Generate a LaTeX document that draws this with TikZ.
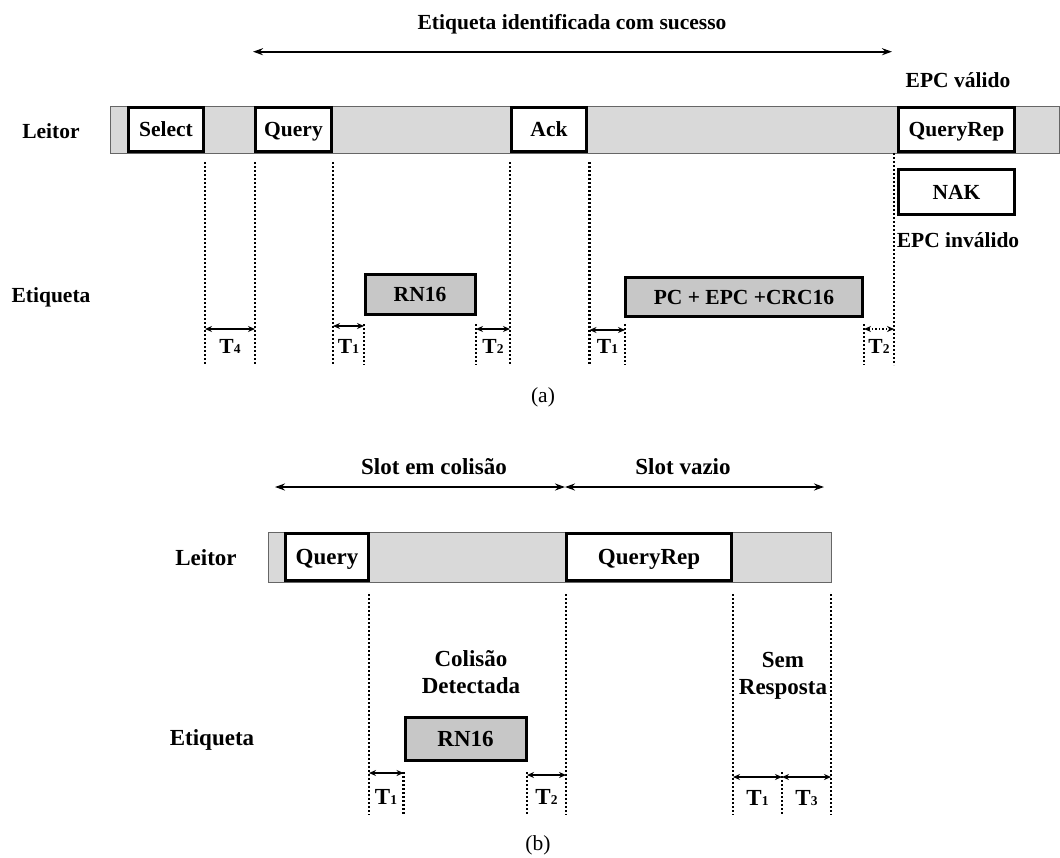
\documentclass[tikz,border=0pt]{standalone}
\usepackage{fontspec}
\setmainfont{Liberation Serif}
\usetikzlibrary{arrows.meta,positioning}

\newcommand{\tsub}[1]{T{\fontsize{13.5}{14}\selectfont #1}}

\begin{document}
\begin{tikzpicture}[x=1pt, y=-1pt,
    txt/.style={font=\fontsize{21.5}{24}\selectfont\bfseries, inner sep=0pt, align=center},
    txtb/.style={font=\fontsize{23}{27}\selectfont\bfseries, inner sep=0pt, align=center},
    bar/.style={draw=black!60, fill=black!15, line width=0.9pt},
    msg/.style={draw, fill=white, line width=3pt, inner sep=0pt, text height=19.5pt, text depth=5pt},
    reply/.style={draw, fill=black!22, line width=3pt, inner sep=0pt},
    guide/.style={line width=2.4pt, dash pattern=on 2.2pt off 1.8pt},
    span/.style={{Stealth[length=10pt,width=7pt]}-{Stealth[length=10pt,width=7pt]}, line width=2.2pt},
    tarr/.style={{Stealth[length=7pt,width=6pt]}-{Stealth[length=7pt,width=6pt]}, line width=1.5pt}]
    \useasboundingbox (0,0) rectangle (1060,857);

    % (a) top
    \node[txt] (title) at (572,24) {Etiqueta identificada com sucesso};
    \coordinate (sa) at (253,51.7);
    \coordinate (sb) at (892,51.7);
    \draw[span] (sa) -- (sb);
    \node[txt] (valid) at (958,80) {EPC válido};

    % leitor
    \node[txt] (leitorA) at (51,131) {Leitor};
    \draw[bar] (110,106) rectangle (1059.5,153);
    \node[msg, txt, minimum width=75.6pt, minimum height=44pt] (sel) at (166,129.5) {Select};
    \node[msg, txt, minimum width=76pt, minimum height=44pt] (qryA) at (293.5,129.5) {Query};
    \node[msg, txt, minimum width=75.5pt, minimum height=44pt] (ack) at (549,129.5) {Ack};
    \node[msg, txt, minimum width=116pt, minimum height=44pt] (qrep) at (956.5,129.5) {QueryRep};
    \node[msg, txt, minimum width=116pt, minimum height=45pt] (nak) at (956.5,192) {NAK};
    \node[txt] (invalid) at (958,240) {EPC inválido};

    % etiqueta
    \node[txt] (etiqA) at (51,297) {Etiqueta};
    \node[reply, txt, minimum width=110pt, minimum height=40pt] (rnA) at (420,294.5) {RN16};
    \node[reply, txt, minimum width=237.5pt, minimum height=39pt] (pcepc) at (744,297) {PC + EPC +CRC16};

    % guides
    \foreach \x/\y [count=\i] in {205/162, 255/162, 333/162, 364/324, 476/324,
                                  510/162, 589.5/162, 625/324, 864/324, 894/153} {
        \draw[guide] (\x,\y) -- (\x,365) coordinate (ga\i);
    }
    \draw[tarr] (ga1 |- 0,329) -- (ga2 |- 0,329);
    \draw[tarr] (ga3 |- 0,326) -- (ga4 |- 0,326);
    \draw[tarr] (ga5 |- 0,329) -- (ga6 |- 0,329);
    \draw[tarr] (ga7 |- 0,330) -- (ga8 |- 0,330);
    \draw[tarr, dotted] (ga9 |- 0,329) -- (ga10 |- 0,329);
    \node[txt] (ta1) at (230,346) {\tsub{4}};
    \node[txt] (ta2) at (348.5,346) {\tsub{1}};
    \node[txt] (ta3) at (493,346) {\tsub{2}};
    \node[txt] (ta4) at (607.5,346) {\tsub{1}};
    \node[txt] (ta5) at (879,346) {\tsub{2}};

    \node[font=\fontsize{21.5}{24}\selectfont, inner sep=0pt] (capa) at (543,397) {(a)};

    % (b) bottom
    \node[txtb] (slotc) at (434,467) {Slot em colisão};
    \node[txtb] (slotv) at (683,467) {Slot vazio};
    \coordinate (ba) at (275,487);
    \coordinate (bm) at (565,487);
    \coordinate (bb) at (824,487);
    \draw[span] (ba) -- (bm);
    \draw[span] (bm) -- (bb);

    \node[txtb] (leitorB) at (206,558) {Leitor};
    \draw[bar] (268,532) rectangle (831,582);
    \node[msg, txtb, minimum width=83pt, minimum height=47pt] (qryB) at (327,557) {Query};
    \node[msg, txtb, minimum width=165pt, minimum height=47pt] (qrepB) at (649,557) {QueryRep};

    \node[txtb] (colis) at (471,672) {Colisão\\Detectada};
    \node[txtb] (semr) at (783,676) {Sem\\Resposta};
    \node[txtb] (etiqB) at (212,740) {Etiqueta};
    \node[reply, txtb, minimum width=121pt, minimum height=42.5pt] (rnB) at (465.5,739) {RN16};

    \foreach \x/\y [count=\i] in {369/594, 403.5/772, 527/772, 566/594,
                                  733/594, 782/772, 831/594} {
        \draw[guide] (\x,\y) -- (\x,815) coordinate (gb\i);
    }
    \draw[tarr] (gb1 |- 0,773) -- (gb2 |- 0,773);
    \draw[tarr] (gb3 |- 0,775) -- (gb4 |- 0,775);
    \draw[tarr] (gb5 |- 0,777) -- (gb6 |- 0,777);
    \draw[tarr] (gb6 |- 0,777) -- (gb7 |- 0,777);
    \node[txtb] (tb1) at (386,797) {\tsub{1}};
    \node[txtb] (tb2) at (546.5,797) {\tsub{2}};
    \node[txtb] (tb3) at (757.5,798) {\tsub{1}};
    \node[txtb] (tb4) at (806.5,798) {\tsub{3}};

    \node[font=\fontsize{21.5}{24}\selectfont, inner sep=0pt] (capb) at (538,845) {(b)};
\end{tikzpicture}
\end{document}
